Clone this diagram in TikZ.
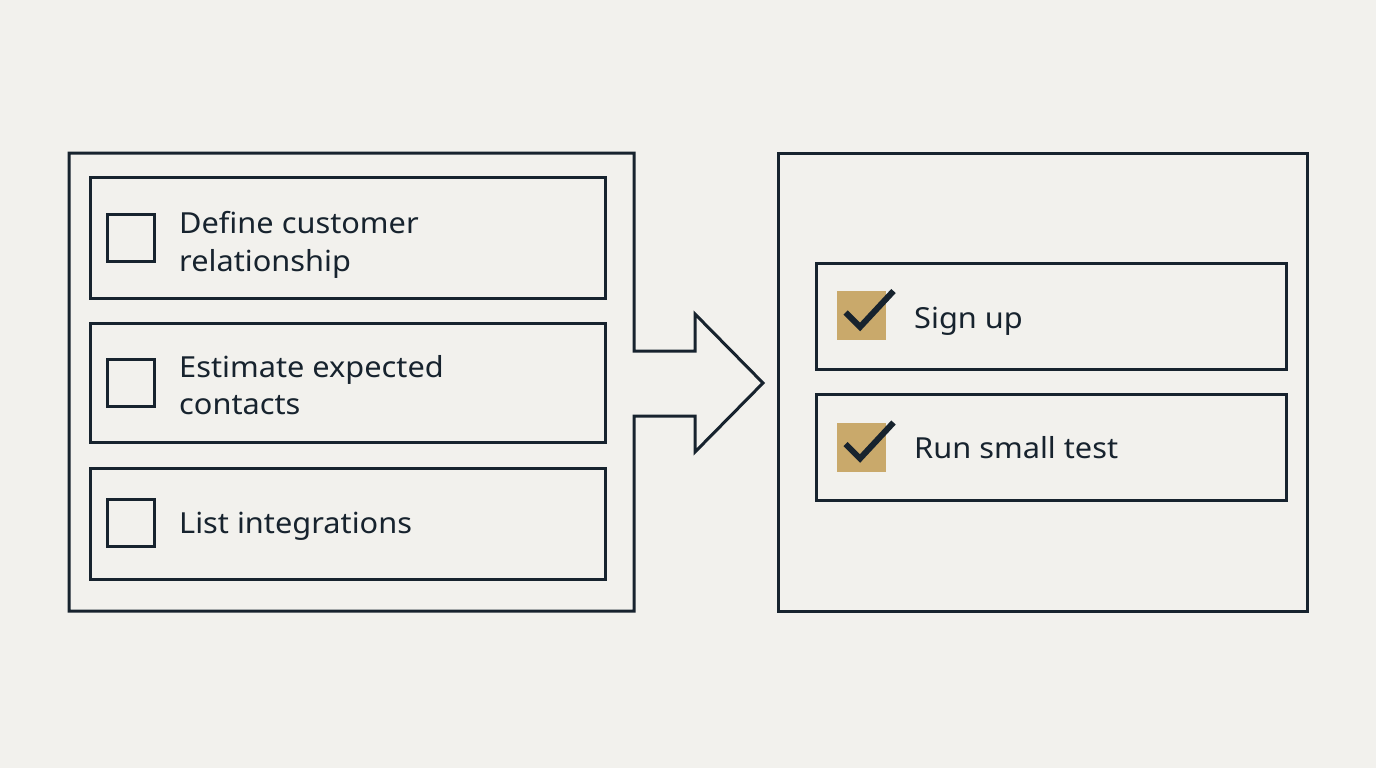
\documentclass[tikz,border=0pt]{standalone}
\usepackage{fontspec}
\setmainfont{Noto Sans}[FakeStretch=1.06]
\definecolor{bg}{HTML}{F2F1ED}
\definecolor{ink}{HTML}{17232E}
\definecolor{gold}{HTML}{C9A96B}
\begin{document}
\begin{tikzpicture}[x=1pt,y=-1pt,
  box/.style={draw=ink, line width=3, rectangle, inner sep=0, outer sep=0},
  cbox/.style={draw=ink, line width=3, rectangle, inner sep=0, minimum width=47, minimum height=47},
  goldbox/.style={fill=gold, rectangle, inner sep=0, minimum width=49, minimum height=49},
  lbl/.style={text=ink, anchor=base west, inner sep=0, font=\fontsize{29}{38}\selectfont},
  check/.style={draw=ink, line width=6, line join=miter}]
\fill[bg] (0,0) rectangle (1376,768);
\useasboundingbox (0,0) rectangle (1376,768);
% left panel with arrow
\coordinate (LTL) at (69,153);
\coordinate (LBR) at (634,611);
\draw[ink, line width=3, line join=miter]
  (LTL) -- (634,153) -- (634,351) -- (695,351) -- (695,314) -- (763,383)
  -- (695,452) -- (695,416) -- (634,416) -- (LBR) -- (69,611) -- cycle;
\node[box, minimum width=515, minimum height=121] (b1) at (347.5,237.5) {};
\node[box, minimum width=515, minimum height=119] (b2) at (347.5,382.5) {};
\node[box, minimum width=515, minimum height=111] (b3) at (347.5,523.5) {};
\node[cbox] (c1) at (131,237.5) {};
\node[cbox] (c2) at (131,383) {};
\node[cbox] (c3) at (131,523) {};
\node[lbl] (t1a) at (179,233) {Define customer};
\node[lbl] (t1b) at (179,271) {relationship};
\node[lbl] (t2a) at (179,377) {Estimate expected};
\node[lbl] (t2b) at (179,414) {contacts};
\node[lbl] (t3) at (179,533) {List integrations};
% right panel
\node[box, minimum width=529, minimum height=458] (R) at (1042.5,382) {};
\node[box, minimum width=470, minimum height=106] (r1) at (1051,316) {};
\node[box, minimum width=470, minimum height=106] (r2) at (1051,447) {};
\node[goldbox] (g1) at (861.5,315.5) {};
\node[goldbox] (g2) at (861.5,447) {};
\draw[check, shift={(g1.center)}] (-16,-3) -- (-1.5,11.5) -- (32,-24.5);
\draw[check, shift={(g2.center)}] (-16,-3) -- (-1.5,11.5) -- (32,-24.5);
\node[lbl] (s1) at (914,328) {Sign up};
\node[lbl] (s2) at (914,458) {Run small test};
\end{tikzpicture}
\end{document}
